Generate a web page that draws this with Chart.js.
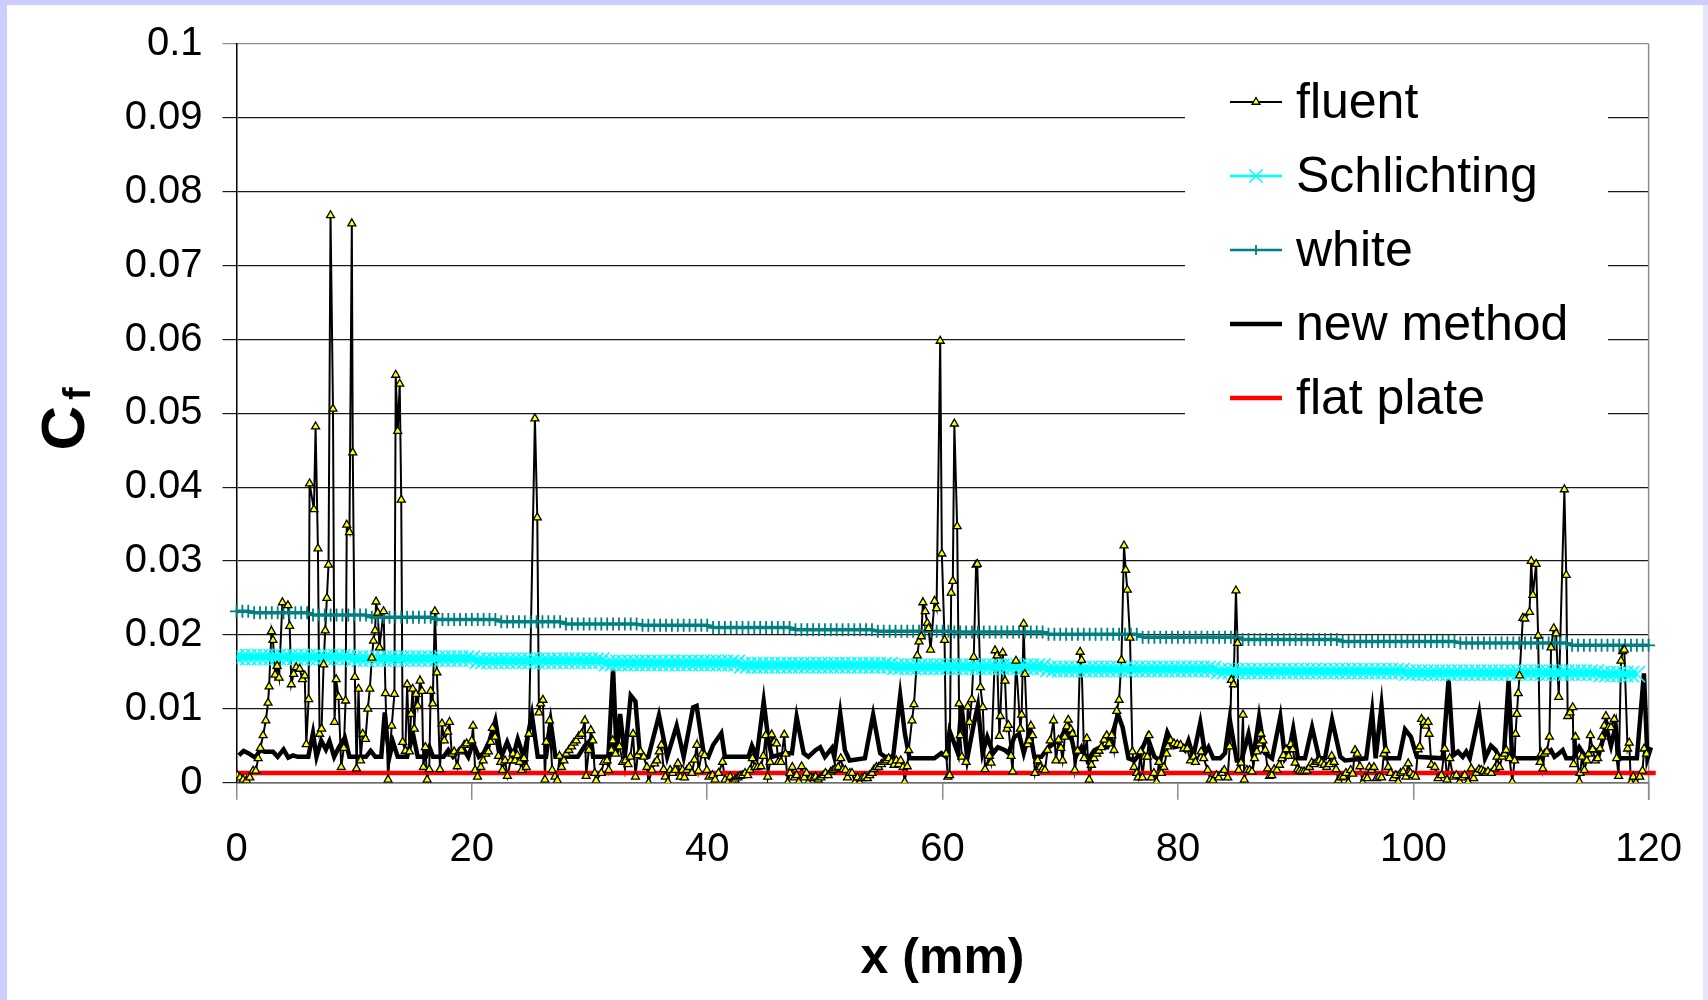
<!DOCTYPE html>
<html>
<head>
<meta charset="utf-8">
<script src="https://cdn.jsdelivr.net/npm/chart.js@4.4.1/dist/chart.umd.min.js"></script>
<style>
  html, body { margin: 0; padding: 0; }
  body { width: 1708px; height: 1000px; background: #ccccff; position: relative; overflow: hidden; }
  #sheet { position: absolute; left: 7px; top: 5px; width: 1696px; height: 995px; background: #ffffff; }
  #edge { position: absolute; left: 1703px; top: 5px; width: 5px; height: 995px; background: #e4e4fb; }
  canvas { position: absolute; left: 0; top: 0; }
</style>
</head>
<body>
<div id="sheet"></div>
<div id="edge"></div>
<canvas id="myChart" width="1708" height="1000"></canvas>
<script>
// series names as in the legend
const seriesNames = ["fluent", "Schlichting", "white", "new method", "flat plate"];

// sampling positions (mm) used by the Schlichting and white curves
const gridX = [
  0,0.5,1,1.5,2,2.5,3,3.5,4,4.5,5,5.5,6,6.5,7,7.5,8,8.5,9,9.5,
  10,10.5,11,11.5,12,12.5,13,13.5,14,14.5,15,15.5,16,16.5,17,17.5,18,18.5,19,19.5,
  20,20.5,21,21.5,22,22.5,23,23.5,24,24.5,25,25.5,26,26.5,27,27.5,28,28.5,29,29.5,
  30,30.5,31,31.5,32,32.5,33,33.5,34,34.5,35,35.5,36,36.5,37,37.5,38,38.5,39,39.5,
  40,40.5,41,41.5,42,42.5,43,43.5,44,44.5,45,45.5,46,46.5,47,47.5,48,48.5,49,49.5,
  50,50.5,51,51.5,52,52.5,53,53.5,54,54.5,55,55.5,56,56.5,57,57.5,58,58.5,59,59.5,
  60,60.5,61,61.5,62,62.5,63,63.5,64,64.5,65,65.5,66,66.5,67,67.5,68,68.5,69,69.5,
  70,70.5,71,71.5,72,72.5,73,73.5,74,74.5,75,75.5,76,76.5,77,77.5,78,78.5,79,79.5,
  80,80.5,81,81.5,82,82.5,83,83.5,84,84.5,85,85.5,86,86.5,87,87.5,88,88.5,89,89.5,
  90,90.5,91,91.5,92,92.5,93,93.5,94,94.5,95,95.5,96,96.5,97,97.5,98,98.5,99,99.5,
  100,100.5,101,101.5,102,102.5,103,103.5,104,104.5,105,105.5,106,106.5,107,107.5,108,108.5,109,109.5,
  110,110.5,111,111.5,112,112.5,113,113.5,114,114.5,115,115.5,116,116.5,117,117.5,118,118.5,119,119.5,
  120,120.5
];

// Schlichting Cf, one value per gridX entry (0 .. 119 mm)
const schlichting = [
  0.0170,0.0170,0.0170,0.0170,0.0170,0.0170,0.0170,0.0170,0.0170,0.0170,
  0.0170,0.0170,0.0170,0.0170,0.0170,0.0170,0.0170,0.0170,0.0170,0.0170,
  0.0168,0.0168,0.0168,0.0168,0.0168,0.0168,0.0168,0.0168,0.0168,0.0168,
  0.0168,0.0168,0.0168,0.0168,0.0168,0.0168,0.0168,0.0168,0.0168,0.0168,0.0168,
  0.0165,0.0165,0.0165,0.0165,0.0165,0.0165,0.0165,0.0165,0.0165,0.0165,0.0165,
  0.0165,0.0165,0.0165,0.0165,0.0165,0.0165,0.0165,0.0165,0.0165,0.0165,0.0165,
  0.0162,0.0162,0.0162,0.0162,0.0162,0.0162,0.0162,0.0162,0.0162,0.0162,0.0162,0.0162,
  0.0162,0.0162,0.0162,0.0162,0.0162,0.0162,0.0162,0.0162,0.0162,0.0162,0.0162,
  0.0159,0.0159,0.0159,0.0159,0.0159,0.0159,0.0159,0.0159,0.0159,0.0159,0.0159,0.0159,0.0159,
  0.0159,0.0159,0.0159,0.0159,0.0159,0.0159,0.0159,0.0159,0.0159,0.0159,0.0159,0.0159,0.0159,
  0.0157,0.0157,0.0157,0.0157,0.0157,0.0157,0.0157,0.0157,0.0157,0.0157,0.0157,0.0157,0.0157,
  0.0157,0.0157,0.0157,0.0157,0.0157,0.0157,0.0157,0.0157,0.0157,0.0157,0.0157,0.0157,0.0157,
  0.0154,0.0154,0.0154,0.0154,0.0154,0.0154,0.0154,0.0154,0.0154,0.0154,0.0154,0.0154,0.0154,0.0154,0.0154,
  0.0154,0.0154,0.0154,0.0154,0.0154,0.0154,0.0154,0.0154,0.0154,0.0154,0.0154,0.0154,0.0154,0.0154,
  0.0151,0.0151,0.0151,0.0151,0.0151,0.0151,0.0151,0.0151,0.0151,0.0151,0.0151,0.0151,0.0151,0.0151,0.0151,0.0151,
  0.0151,0.0151,0.0151,0.0151,0.0151,0.0151,0.0151,0.0151,0.0151,0.0151,0.0151,0.0151,0.0151,0.0151,0.0151,0.0151,
  0.0149,0.0149,0.0149,0.0149,0.0149,0.0149,0.0149,0.0149,0.0149,0.0149,0.0149,0.0149,0.0149,0.0149,0.0149,0.0149,0.0149,
  0.0149,0.0149,0.0149,0.0149,0.0149,0.0149,0.0149,0.0149,0.0149,0.0149,0.0149,0.0149,0.0149,0.0149,0.0149,0.0149,
  0.0147,0.0147,0.0147,0.0147,0.0147,0.0147,0.0147
];

// White Cf, one value per gridX entry (0 .. 120.5 mm)
const white = [
  0.0232,0.0232,0.0232,
  0.0230,0.0230,0.0230,0.0230,0.0230,0.0230,0.0230,0.0230,0.0230,0.0230,
  0.0227,0.0227,0.0227,0.0227,0.0227,0.0227,0.0227,0.0227,0.0227,0.0227,
  0.0224,0.0224,0.0224,0.0224,0.0224,0.0224,0.0224,0.0224,0.0224,0.0224,0.0224,
  0.0221,0.0221,0.0221,0.0221,0.0221,0.0221,0.0221,0.0221,0.0221,0.0221,0.0221,
  0.0218,0.0218,0.0218,0.0218,0.0218,0.0218,0.0218,0.0218,0.0218,0.0218,0.0218,
  0.0215,0.0215,0.0215,0.0215,0.0215,0.0215,0.0215,0.0215,0.0215,0.0215,0.0215,0.0215,0.0215,
  0.0213,0.0213,0.0213,0.0213,0.0213,0.0213,0.0213,0.0213,0.0213,0.0213,0.0213,0.0213,
  0.0210,0.0210,0.0210,0.0210,0.0210,0.0210,0.0210,0.0210,0.0210,0.0210,0.0210,0.0210,0.0210,0.0210,
  0.0207,0.0207,0.0207,0.0207,0.0207,0.0207,0.0207,0.0207,0.0207,0.0207,0.0207,0.0207,0.0207,0.0207,
  0.0205,0.0205,0.0205,0.0205,0.0205,0.0205,0.0205,0.0205,0.0205,0.0205,0.0205,0.0205,0.0205,
  0.0204,0.0204,0.0204,0.0204,0.0204,0.0204,0.0204,0.0204,0.0204,0.0204,0.0204,0.0204,0.0204,0.0204,0.0204,0.0204,
  0.0201,0.0201,0.0201,0.0201,0.0201,0.0201,0.0201,0.0201,0.0201,0.0201,0.0201,0.0201,0.0201,0.0201,0.0201,0.0201,
  0.0197,0.0197,0.0197,0.0197,0.0197,0.0197,0.0197,0.0197,0.0197,0.0197,0.0197,0.0197,0.0197,0.0197,0.0197,0.0197,0.0197,
  0.0194,0.0194,0.0194,0.0194,0.0194,0.0194,0.0194,0.0194,0.0194,0.0194,0.0194,0.0194,0.0194,0.0194,0.0194,0.0194,0.0194,
  0.0191,0.0191,0.0191,0.0191,0.0191,0.0191,0.0191,0.0191,0.0191,0.0191,0.0191,0.0191,0.0191,0.0191,0.0191,0.0191,0.0191,0.0191,0.0191,0.0191,
  0.0189,0.0189,0.0189,0.0189,0.0189,0.0189,0.0189,0.0189,0.0189,0.0189,0.0189,0.0189,0.0189,0.0189,0.0189,0.0189,0.0189,0.0189,0.0189,
  0.0186,0.0186,0.0186,0.0186,0.0186,0.0186,0.0186,0.0186,0.0186,0.0186,0.0186,0.0186,0.0186,0.0186,0.0186
];

// new method: [x mm, Cf] vertices
const newMethod = [
  [0.2,0.0037],[0.6,0.0043],[1.0,0.0040],[1.6,0.0034],[2.0,0.0044],[2.4,0.0042],[3.1,0.0042],[3.5,0.0035],
  [4.0,0.0045],[4.4,0.0034],[4.8,0.0037],[5.2,0.0035],[6.1,0.0035],[6.5,0.0067],[6.8,0.0035],[7.2,0.0057],
  [7.6,0.0045],[7.9,0.0056],[8.3,0.0035],[8.7,0.0048],[9.2,0.0061],[9.6,0.0035],[11.0,0.0035],[11.4,0.0043],
  [11.8,0.0035],[12.3,0.0035],[12.6,0.0095],[12.8,0.0060],[13.0,0.0035],[13.3,0.0055],[13.7,0.0035],[14.5,0.0035],
  [15.0,0.0066],[15.4,0.0035],[16.1,0.0035],[16.4,0.0048],[16.7,0.0035],[17.6,0.0035],[18.0,0.0044],[18.4,0.0035],
  [19.2,0.0048],[19.7,0.0035],[20.1,0.0054],[20.6,0.0035],[21.0,0.0040],[21.5,0.0057],[22.0,0.0084],[22.5,0.0035],
  [23.0,0.0055],[23.5,0.0035],[23.9,0.0059],[24.4,0.0035],[25.1,0.0092],[25.6,0.0035],[26.3,0.0035],[26.7,0.0082],
  [27.1,0.0035],[29.0,0.0035],[29.6,0.0050],[30.1,0.0058],[30.3,0.0035],[31.6,0.0035],[32.0,0.0154],[32.3,0.0040],
  [32.6,0.0093],[33.0,0.0035],[33.5,0.0118],[33.9,0.0110],[34.3,0.0035],[35.0,0.0035],[35.9,0.0091],[36.6,0.0035],
  [37.4,0.0077],[38.0,0.0035],[38.8,0.0102],[39.1,0.0104],[39.7,0.0040],[40.1,0.0035],[40.5,0.0051],[41.2,0.0067],
  [41.5,0.0035],[43.5,0.0035],[43.8,0.0050],[44.2,0.0035],[44.8,0.0110],[45.2,0.0057],[45.5,0.0035],[46.6,0.0040],
  [47.2,0.0040],[47.6,0.0089],[48.2,0.0040],[48.6,0.0035],[49.2,0.0044],[49.6,0.0048],[50.0,0.0035],[50.6,0.0047],
  [50.8,0.0035],[51.3,0.0094],[51.7,0.0044],[52.1,0.0030],[53.4,0.0033],[54.1,0.0092],[54.7,0.0040],[55.1,0.0035],
  [55.8,0.0035],[56.4,0.0118],[56.8,0.0066],[57.2,0.0033],[59.3,0.0033],[59.9,0.0040],[60.3,0.0035],[60.6,0.0070],
  [60.9,0.0057],[61.3,0.0040],[61.6,0.0105],[62.1,0.0033],[62.6,0.0075],[63.0,0.0104],[63.4,0.0040],[63.8,0.0062],
  [64.3,0.0040],[64.7,0.0048],[65.3,0.0044],[65.6,0.0040],[66.1,0.0062],[66.5,0.0066],[66.9,0.0040],[67.4,0.0070],
  [67.8,0.0035],[68.4,0.0035],[69.0,0.0048],[69.5,0.0053],[70.1,0.0062],[70.5,0.0075],[71.0,0.0057],[71.3,0.0035],
  [71.8,0.0048],[72.3,0.0030],[72.9,0.0044],[73.4,0.0048],[74.0,0.0048],[74.6,0.0075],[74.9,0.0093],[75.3,0.0075],
  [75.8,0.0033],[76.3,0.0030],[76.8,0.0040],[77.4,0.0062],[78.0,0.0035],[78.5,0.0030],[79.1,0.0068],[79.7,0.0048],
  [80.2,0.0050],[80.6,0.0044],[80.9,0.0057],[81.3,0.0035],[81.9,0.0081],[82.3,0.0040],[82.6,0.0048],[83.0,0.0033],
  [83.6,0.0033],[84.0,0.0040],[84.4,0.0086],[85.0,0.0030],[85.4,0.0030],[86.0,0.0066],[86.4,0.0033],[86.9,0.0089],
  [87.4,0.0040],[88.0,0.0033],[88.7,0.0089],[89.1,0.0033],[89.4,0.0040],[89.8,0.0073],[90.2,0.0033],[90.8,0.0033],
  [91.4,0.0075],[92.0,0.0033],[92.5,0.0033],[93.1,0.0085],[93.8,0.0035],[94.2,0.0030],[96.0,0.0033],[96.5,0.0096],
  [96.8,0.0033],[97.3,0.0104],[97.7,0.0033],[98.8,0.0033],[99.3,0.0072],[99.8,0.0062],[100.3,0.0035],[102.5,0.0033],
  [103.0,0.0140],[103.4,0.0037],[103.8,0.0042],[104.2,0.0035],[104.5,0.0042],[104.8,0.0033],[105.6,0.0094],[106.1,0.0033],
  [106.6,0.0050],[107.0,0.0044],[107.3,0.0035],[107.7,0.0037],[108.1,0.0138],[108.4,0.0033],[110.7,0.0033],[111.3,0.0040],
  [111.7,0.0044],[112.0,0.0035],[112.4,0.0040],[112.7,0.0044],[113.0,0.0033],[113.6,0.0033],[114.1,0.0048],[114.7,0.0033],
  [115.2,0.0048],[115.8,0.0040],[116.4,0.0075],[116.8,0.0050],[117.2,0.0077],[117.5,0.0033],[119.0,0.0033],[119.6,0.0148],
  [119.9,0.0033],[120.2,0.0048],[120.6,0.0033]
];

// flat plate: constant Cf
const flatPlate = [[0,0.0013],[120.6,0.0013]];

// fluent: [x mm, Cf] points
const fluent = [
  [0.06,0.0010],[0.30,0.0007],[0.56,0.0004],[0.85,0.0003],[1.13,0.0007],[1.41,0.0016],[1.64,0.0016],[1.84,0.0033],
  [2.03,0.0047],[2.26,0.0064],[2.49,0.0084],[2.68,0.0108],[2.77,0.0130],[2.97,0.0205],[3.10,0.0193],[3.28,0.0146],
  [3.45,0.0158],[3.62,0.0142],[3.90,0.0244],[4.37,0.0240],[4.52,0.0212],[4.66,0.0133],[4.86,0.0147],[5.08,0.0156],
  [5.37,0.0154],[5.60,0.0140],[5.80,0.0145],[5.93,0.0052],[6.13,0.0113],[6.21,0.0405],[6.58,0.0370],[6.72,0.0482],
  [6.92,0.0317],[7.06,0.0066],[7.23,0.0073],[7.40,0.0160],[7.54,0.0206],[7.68,0.0250],[7.82,0.0295],[7.99,0.0768],
  [8.20,0.0506],[8.33,0.0082],[8.47,0.0140],[8.67,0.0116],[8.90,0.0021],[9.12,0.0047],[9.27,0.0111],[9.37,0.0349],
  [9.60,0.0339],[9.80,0.0757],[9.88,0.0447],[10.06,0.0143],[10.20,0.0019],[10.37,0.0127],[10.54,0.0030],[10.73,0.0066],
  [10.96,0.0059],[11.16,0.0100],[11.33,0.0127],[11.50,0.0169],[11.64,0.0192],[11.78,0.0206],[11.86,0.0245],[12.00,0.0230],
  [12.15,0.0183],[12.50,0.0232],[12.66,0.0121],[12.88,0.0004],[13.19,0.0077],[13.42,0.0120],[13.53,0.0552],[13.70,0.0476],
  [13.87,0.0540],[14.00,0.0383],[14.12,0.0055],[14.35,0.0043],[14.50,0.0133],[14.70,0.0042],[14.83,0.0093],[14.97,0.0127],
  [15.11,0.0073],[15.25,0.0120],[15.40,0.0104],[15.60,0.0138],[15.76,0.0124],[15.88,0.0021],[16.05,0.0048],[16.20,0.0004],
  [16.38,0.0018],[16.50,0.0124],[16.67,0.0107],[16.86,0.0232],[17.03,0.0149],[17.29,0.0018],[17.46,0.0080],[17.66,0.0057],
  [17.94,0.0069],[18.10,0.0082],[18.30,0.0039],[18.50,0.0042],[18.76,0.0022],[18.93,0.0042],[19.12,0.0044],[19.35,0.0051],
  [19.55,0.0053],[19.99,0.0057],[20.10,0.0077],[20.28,0.0017],[20.48,0.0008],[20.76,0.0021],[20.96,0.0030],[21.18,0.0039],
  [21.41,0.0042],[21.60,0.0055],[21.75,0.0074],[21.97,0.0062],[22.26,0.0036],[22.45,0.0028],[22.60,0.0017],[22.82,0.0030],
  [23.02,0.0009],[23.30,0.0030],[23.50,0.0039],[23.67,0.0030],[23.87,0.0037],[24.06,0.0028],[24.23,0.0017],[24.43,0.0033],
  [24.63,0.0021],[24.85,0.0066],[25.36,0.0493],[25.56,0.0359],[25.70,0.0095],[25.84,0.0107],[26.04,0.0112],[26.21,0.0004],
  [26.32,0.0055],[26.60,0.0084],[26.83,0.0017],[27.06,0.0008],[27.26,0.0003],[27.45,0.0036],[27.62,0.0021],[27.82,0.0030],
  [28.02,0.0039],[28.25,0.0044],[28.47,0.0049],[28.67,0.0054],[28.87,0.0057],[29.09,0.0063],[29.32,0.0066],[29.60,0.0084],
  [29.71,0.0009],[29.94,0.0044],[30.11,0.0071],[30.28,0.0057],[30.45,0.0013],[30.56,0.0003],[31.00,0.0013],[31.21,0.0028],
  [31.49,0.0030],[31.63,0.0017],[31.86,0.0044],[31.97,0.0057],[32.20,0.0039],[32.54,0.0049],[32.82,0.0028],[33.05,0.0030],
  [33.27,0.0025],[33.47,0.0035],[33.70,0.0066],[33.90,0.0008],[34.09,0.0037],[34.32,0.0042],[34.60,0.0035],[34.88,0.0021],
  [35.02,0.0000],[35.30,0.0017],[35.53,0.0026],[35.73,0.0030],[35.93,0.0042],[36.10,0.0051],[36.30,0.0018],[36.44,0.0008],
  [36.66,0.0001],[36.86,0.0017],[37.06,0.0013],[37.28,0.0017],[37.51,0.0026],[37.71,0.0008],[37.90,0.0017],[38.07,0.0007],
  [38.27,0.0017],[38.47,0.0021],[38.70,0.0013],[38.92,0.0031],[39.12,0.0051],[39.26,0.0016],[39.54,0.0039],[39.77,0.0037],
  [39.97,0.0017],[40.16,0.0008],[40.45,0.0010],[40.67,0.0004],[40.96,0.0013],[41.30,0.0028],[41.52,0.0004],[41.75,0.0000],
  [41.95,0.0008],[42.14,0.0001],[42.37,0.0004],[42.60,0.0007],[42.79,0.0009],[42.99,0.0010],[43.22,0.0013],[43.44,0.0010],
  [43.64,0.0017],[43.84,0.0033],[44.06,0.0021],[44.29,0.0021],[44.57,0.0022],[44.77,0.0036],[44.97,0.0064],[45.14,0.0008],
  [45.34,0.0028],[45.48,0.0065],[45.70,0.0055],[45.90,0.0053],[46.04,0.0028],[46.27,0.0028],[46.55,0.0065],[46.66,0.0039],
  [46.83,0.0000],[47.03,0.0013],[47.23,0.0021],[47.40,0.0007],[47.60,0.0010],[47.79,0.0001],[48.02,0.0022],[48.25,0.0007],
  [48.44,0.0013],[48.58,0.0000],[48.81,0.0007],[49.01,0.0006],[49.21,0.0008],[49.43,0.0004],[49.66,0.0007],[49.86,0.0010],
  [50.05,0.0013],[50.28,0.0010],[50.51,0.0015],[50.70,0.0017],[50.90,0.0019],[51.13,0.0021],[51.35,0.0033],[51.55,0.0018],
  [51.75,0.0017],[51.92,0.0007],[52.12,0.0013],[52.31,0.0013],[52.54,0.0000],[52.77,0.0007],[52.96,0.0000],[53.16,0.0006],
  [53.39,0.0008],[53.61,0.0006],[53.81,0.0010],[54.00,0.0013],[54.18,0.0018],[54.38,0.0021],[54.57,0.0021],[54.80,0.0025],
  [55.03,0.0028],[55.22,0.0030],[55.42,0.0033],[55.65,0.0028],[55.87,0.0024],[56.07,0.0030],[56.27,0.0025],[56.44,0.0030],
  [56.64,0.0021],[56.78,0.0001],[57.00,0.0022],[57.12,0.0044],[57.40,0.0084],[57.57,0.0106],[57.85,0.0172],[58.00,0.0191],
  [58.19,0.0198],[58.33,0.0244],[58.53,0.0232],[58.70,0.0216],[58.81,0.0209],[58.98,0.0180],[59.32,0.0246],[59.49,0.0236],
  [59.80,0.0598],[59.94,0.0310],[60.17,0.0193],[60.30,0.0039],[60.45,0.0008],[60.60,0.0010],[60.73,0.0257],[60.87,0.0273],
  [61.00,0.0486],[61.24,0.0347],[61.40,0.0107],[61.50,0.0064],[61.64,0.0035],[62.00,0.0028],[62.14,0.0103],[62.29,0.0082],
  [62.48,0.0113],[62.65,0.0170],[62.85,0.0295],[62.95,0.0296],[63.22,0.0129],[63.42,0.0102],[63.61,0.0018],[63.98,0.0036],
  [64.12,0.0027],[64.46,0.0179],[64.63,0.0172],[64.83,0.0063],[64.91,0.0090],[65.11,0.0176],[65.31,0.0138],[65.48,0.0073],
  [65.59,0.0078],[65.82,0.0036],[65.96,0.0015],[66.24,0.0165],[66.61,0.0073],[66.72,0.0092],[66.89,0.0215],[67.00,0.0147],
  [67.23,0.0052],[67.37,0.0057],[67.51,0.0077],[67.65,0.0064],[67.85,0.0013],[68.08,0.0030],[68.30,0.0021],[68.50,0.0018],
  [68.70,0.0017],[68.92,0.0044],[69.15,0.0057],[69.43,0.0084],[69.63,0.0030],[69.86,0.0058],[70.05,0.0047],[70.20,0.0030],
  [70.39,0.0062],[70.56,0.0076],[70.68,0.0085],[70.90,0.0072],[71.04,0.0066],[71.24,0.0017],[71.47,0.0043],[71.69,0.0177],
  [71.81,0.0166],[72.03,0.0033],[72.26,0.0060],[72.46,0.0004],[72.65,0.0024],[72.88,0.0033],[73.10,0.0039],[73.30,0.0043],
  [73.50,0.0048],[73.73,0.0058],[73.95,0.0064],[74.15,0.0053],[74.38,0.0064],[74.57,0.0044],[74.80,0.0097],[75.00,0.0112],
  [75.20,0.0166],[75.42,0.0321],[75.56,0.0288],[75.70,0.0261],[75.93,0.0196],[76.13,0.0042],[76.27,0.0021],[76.50,0.0013],
  [76.61,0.0007],[76.83,0.0042],[76.98,0.0007],[77.17,0.0035],[77.40,0.0035],[77.54,0.0064],[77.74,0.0007],[77.96,0.0013],
  [78.19,0.0001],[78.39,0.0028],[78.59,0.0013],[78.81,0.0021],[79.04,0.0039],[79.15,0.0049],[79.38,0.0057],[79.66,0.0053],
  [79.94,0.0052],[80.22,0.0051],[80.50,0.0046],[80.79,0.0046],[81.07,0.0030],[81.35,0.0035],[81.49,0.0028],[81.97,0.0042],
  [82.19,0.0033],[82.53,0.0017],[82.76,0.0004],[82.98,0.0003],[83.27,0.0010],[83.46,0.0007],[83.75,0.0013],[83.94,0.0017],
  [84.23,0.0007],[84.40,0.0049],[84.54,0.0139],[84.73,0.0133],[84.93,0.0260],[85.07,0.0189],[85.16,0.0017],[85.36,0.0027],
  [85.53,0.0092],[85.64,0.0004],[85.87,0.0017],[86.09,0.0017],[86.29,0.0015],[86.51,0.0033],[86.71,0.0042],[86.94,0.0053],
  [87.05,0.0066],[87.22,0.0057],[87.42,0.0044],[87.62,0.0019],[87.79,0.0009],[87.98,0.0010],[88.18,0.0018],[88.41,0.0017],
  [88.63,0.0024],[88.83,0.0033],[88.97,0.0037],[89.20,0.0045],[89.40,0.0036],[89.59,0.0052],[89.76,0.0045],[89.96,0.0027],
  [90.16,0.0018],[90.33,0.0016],[90.53,0.0015],[90.72,0.0015],[90.95,0.0016],[91.18,0.0021],[91.37,0.0027],[91.57,0.0025],
  [91.80,0.0028],[92.02,0.0030],[92.22,0.0027],[92.42,0.0024],[92.64,0.0021],[92.87,0.0025],[93.07,0.0036],[93.27,0.0028],
  [93.44,0.0018],[93.63,0.0003],[93.83,0.0007],[94.06,0.0008],[94.28,0.0013],[94.48,0.0000],[94.68,0.0017],[94.85,0.0012],
  [95.05,0.0044],[95.24,0.0039],[95.47,0.0022],[95.70,0.0000],[95.89,0.0007],[96.09,0.0006],[96.26,0.0021],[96.46,0.0017],
  [96.66,0.0021],[96.88,0.0006],[97.11,0.0008],[97.31,0.0007],[97.50,0.0039],[97.67,0.0044],[97.87,0.0021],[98.07,0.0013],
  [98.30,0.0006],[98.52,0.0010],[98.72,0.0001],[98.92,0.0013],[99.14,0.0015],[99.37,0.0008],[99.57,0.0026],[99.76,0.0013],
  [99.99,0.0010],[100.20,0.0008],[100.41,0.0045],[100.55,0.0049],[100.70,0.0086],[100.90,0.0082],[101.06,0.0077],[101.26,0.0082],
  [101.35,0.0066],[101.54,0.0024],[101.83,0.0021],[102.11,0.0006],[102.39,0.0010],[102.67,0.0046],[102.87,0.0004],[103.10,0.0033],
  [103.38,0.0008],[103.66,0.0010],[103.94,0.0001],[104.17,0.0007],[104.37,0.0010],[104.65,0.0001],[104.93,0.0019],[105.13,0.0006],
  [105.36,0.0013],[105.58,0.0018],[105.78,0.0017],[105.98,0.0015],[106.15,0.0013],[106.35,0.0015],[106.63,0.0013],[106.91,0.0019],
  [107.11,0.0035],[107.33,0.0021],[107.56,0.0035],[107.76,0.0039],[107.90,0.0044],[108.18,0.0033],[108.41,0.0001],[108.61,0.0030],
  [108.69,0.0066],[108.80,0.0093],[108.92,0.0121],[109.03,0.0145],[109.31,0.0223],[109.48,0.0222],[109.88,0.0231],[110.02,0.0300],
  [110.16,0.0254],[110.44,0.0296],[110.61,0.0199],[110.78,0.0028],[110.87,0.0039],[111.01,0.0019],[111.15,0.0039],[111.35,0.0042],
  [111.57,0.0062],[111.71,0.0183],[111.94,0.0209],[112.14,0.0202],[112.36,0.0116],[112.84,0.0397],[113.00,0.0281],[113.12,0.0090],
  [113.32,0.0095],[113.55,0.0102],[113.63,0.0025],[113.78,0.0062],[114.11,0.0001],[114.17,0.0013],[114.34,0.0035],[114.54,0.0017],
  [114.74,0.0030],[114.90,0.0039],[115.05,0.0064],[115.24,0.0045],[115.47,0.0030],[115.67,0.0033],[115.87,0.0046],[116.03,0.0062],
  [116.23,0.0077],[116.37,0.0090],[116.60,0.0075],[116.80,0.0075],[117.08,0.0086],[117.28,0.0033],[117.45,0.0009],[117.65,0.0165],
  [117.79,0.0178],[117.93,0.0180],[118.21,0.0046],[118.35,0.0054],[118.49,0.0000],[118.69,0.0008],[118.92,0.0000],[119.25,0.0008],
  [119.48,0.0016],[119.62,0.0046],[119.82,0.0039]
];

const FONT = '"Liberation Sans", Arial, sans-serif';

const styles = [
  { color: "#000000", width: 2 },    // fluent
  { color: "#00ffff", width: 2.5 },  // Schlichting (legend line)
  { color: "#008080", width: 2.5 },  // white
  { color: "#000000", width: 4.5 },  // new method
  { color: "#ff0000", width: 4.5 }   // flat plate
];

function pairs(list) {
  return list.map(p => ({ x: p[0], y: p[1] }));
}
function onGrid(values) {
  return values.map((v, i) => ({ x: gridX[i], y: v }));
}

// frame bits: right border, legend box, rotated y title
const extras = {
  id: "extras",
  beforeDatasetsDraw(chart) {
    const { ctx, chartArea: a } = chart;
    ctx.save();
    ctx.strokeStyle = "#8c8c8c";
    ctx.lineWidth = 1.5;
    ctx.beginPath();
    ctx.moveTo(a.right, a.top);
    ctx.lineTo(a.right, a.bottom + 17);
    ctx.stroke();
    ctx.restore();
  },
  afterDatasetsDraw(chart) {
    const ctx = chart.ctx;
    ctx.save();
    ctx.fillStyle = "#ffffff";
    ctx.fillRect(1185, 70, 423, 358);
    const rows = [102, 176, 250, 324, 398];
    seriesNames.forEach((name, i) => {
      const y = rows[i];
      const s = styles[i];
      ctx.strokeStyle = s.color;
      ctx.lineWidth = s.width;
      ctx.beginPath();
      ctx.moveTo(1230, y);
      ctx.lineTo(1282, y);
      ctx.stroke();
      const cx = 1256;
      if (i === 0) {
        const r = 4.5;
        ctx.beginPath();
        ctx.moveTo(cx, y - r);
        ctx.lineTo(cx + r * 0.866, y + r * 0.5);
        ctx.lineTo(cx - r * 0.866, y + r * 0.5);
        ctx.closePath();
        ctx.fillStyle = "#ffff00";
        ctx.fill();
        ctx.lineWidth = 1.3;
        ctx.strokeStyle = "#000";
        ctx.stroke();
      } else if (i === 1) {
        ctx.lineWidth = 1.6;
        ctx.beginPath();
        ctx.moveTo(cx - 6.7, y - 6.7); ctx.lineTo(cx + 6.7, y + 6.7);
        ctx.moveTo(cx + 6.7, y - 6.7); ctx.lineTo(cx - 6.7, y + 6.7);
        ctx.stroke();
      } else if (i === 2) {
        ctx.lineWidth = 1.8;
        ctx.beginPath();
        ctx.moveTo(cx, y - 5); ctx.lineTo(cx, y + 5);
        ctx.stroke();
      }
      ctx.fillStyle = "#000";
      ctx.font = "50px " + FONT;
      ctx.textAlign = "left";
      ctx.textBaseline = "alphabetic";
      ctx.fillText(name, 1296, y + 16);
    });
    ctx.restore();
  },
  afterDraw(chart) {
    const ctx = chart.ctx;
    ctx.save();
    ctx.translate(67, 428);
    ctx.rotate(-Math.PI / 2);
    ctx.fillStyle = "#000";
    ctx.textBaseline = "middle";
    ctx.textAlign = "center";
    ctx.font = "bold 62px " + FONT;
    ctx.fillText("C", 0, 0);
    ctx.textAlign = "left";
    ctx.font = "bold 38px " + FONT;
    ctx.fillText("f", 28, 13);
    ctx.restore();
  }
};

const ctx = document.getElementById("myChart").getContext("2d");
const myChart = new Chart(ctx, {
  type: "line",
  data: {
    datasets: [
      {
        label: "fluent line", data: pairs(fluent), order: 6,
        borderColor: styles[0].color, borderWidth: styles[0].width,
        pointRadius: 0, tension: 0
      },
      {
        label: seriesNames[3], data: pairs(newMethod), order: 5, clip: false,
        borderColor: styles[3].color, borderWidth: styles[3].width,
        pointRadius: 0, tension: 0
      },
      {
        label: seriesNames[4], data: pairs(flatPlate), order: 4, clip: false,
        borderColor: styles[4].color, borderWidth: styles[4].width,
        pointRadius: 0
      },
      {
        label: seriesNames[1], data: onGrid(schlichting), order: 3,
        borderColor: styles[1].color, borderWidth: 7,
        pointStyle: "crossRot", pointRadius: 11.5, pointBorderWidth: 1.6,
        pointBorderColor: styles[1].color, tension: 0
      },
      {
        label: seriesNames[2], data: onGrid(white), order: 2, clip: false,
        borderColor: styles[2].color, borderWidth: 3.5,
        pointStyle: "cross", pointRadius: 6.5, pointBorderWidth: 1.8,
        pointBorderColor: styles[2].color, tension: 0
      },
      {
        label: seriesNames[0], data: pairs(fluent), order: 1,
        showLine: false,
        pointStyle: "triangle", pointRadius: 4.6, pointBorderWidth: 1.3,
        pointBackgroundColor: "#ffff00", pointBorderColor: "#000000"
      }
    ]
  },
  options: {
    responsive: false,
    animation: false,
    devicePixelRatio: 1,
    events: [],
    layout: { padding: { left: 0, right: 55.5, top: 38, bottom: 0 } },
    plugins: {
      legend: { display: false },
      tooltip: { enabled: false }
    },
    scales: {
      x: {
        type: "linear",
        min: 0,
        max: 120,
        afterFit: scale => { scale.height = 217.3; },
        ticks: {
          stepSize: 20, color: "#000", padding: 26, maxRotation: 0,
          font: { family: FONT, size: 40 }
        },
        grid: { drawOnChartArea: false, drawTicks: true, tickLength: 17, color: "#8c8c8c", lineWidth: 1.5 },
        border: { display: true, color: "#6e6e6e", width: 1.5 },
        title: {
          display: true, text: "x (mm)", color: "#000",
          font: { family: FONT, size: 50, weight: "bold" },
          padding: { top: 0, bottom: 11 }
        }
      },
      y: {
        min: 0,
        max: 0.1,
        afterFit: scale => { scale.width = 236.5; },
        ticks: {
          stepSize: 0.01, color: "#000", padding: 20,
          font: { family: FONT, size: 40 },
          callback: v => String(Number(v.toFixed(2)))
        },
        grid: {
          color: c => (c.tick && c.tick.value > 0.095 ? "#8c8c8c" : "#1a1a1a"),
          lineWidth: 1.2, tickLength: 14
        },
        border: { display: true, color: "#000", width: 1.5 }
      }
    }
  },
  plugins: [extras]
});
</script>
</body>
</html>
